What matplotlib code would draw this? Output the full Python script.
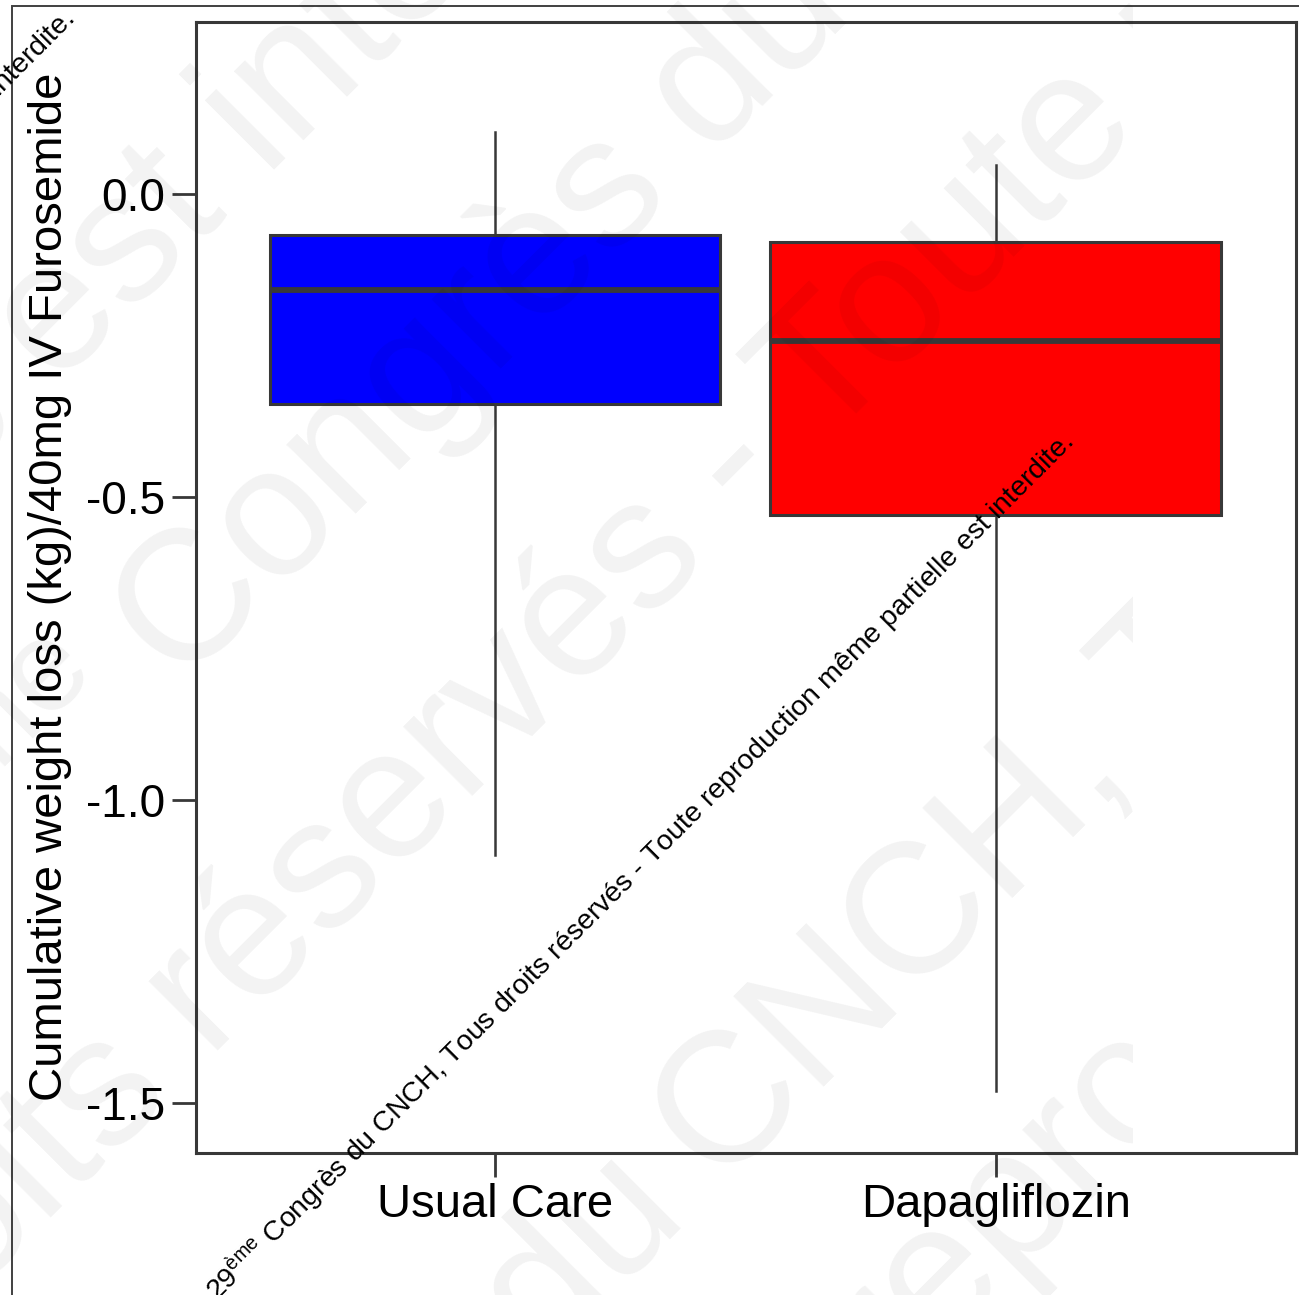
import matplotlib
matplotlib.use("Agg")
import matplotlib.pyplot as plt
from matplotlib.transforms import Bbox
from matplotlib.patches import Rectangle

plt.rcParams["font.family"] = ["Liberation Sans", "DejaVu Sans"]
plt.rcParams["mathtext.fontset"] = "custom"
plt.rcParams["mathtext.rm"] = "Liberation Sans"
plt.rcParams["mathtext.it"] = "Liberation Sans:italic"
plt.rcParams["mathtext.bf"] = "Liberation Sans:bold"

# ---- data -------------------------------------------------------------
groups = ["Usual Care", "Dapagliflozin"]
whisker_low = [-1.091, -1.480]
quartile_1 = [-0.347, -0.529]
medians = [-0.159, -0.243]
quartile_3 = [-0.067, -0.080]
whisker_high = [0.102, 0.048]
box_colors = ["#0000ff", "#ff0000"]

y_ticks = [0.0, -0.5, -1.0, -1.5]
y_tick_labels = ["0.0", "-0.5", "-1.0", "-1.5"]
y_label = "Cumulative weight loss (kg)/40mg IV Furosemide"

notice = ("29$^{\\mathrm{ème}}$ Congrès du CNCH, Tous droits réservés - "
          "Toute reproduction même partielle est interdite.")

# ---- figure -----------------------------------------------------------
W, H = 1299, 1295
fig = plt.figure(figsize=(W / 100, H / 100), dpi=100)
fig.patch.set_facecolor("white")

ink = "#383838"

# slide frame (left and top edges)
fig.add_artist(Rectangle((12 / W, -0.2), 2.0, 1.2 - 6 / H,
                         transform=fig.transFigure, fill=False,
                         edgecolor="#404040", linewidth=1.4, zorder=1))

ax = fig.add_axes([196 / W, 1 - 1152.5 / H, (1296 - 196) / W, (1152.5 - 22) / H])

stats = [
    dict(label=g, whislo=lo, q1=a, med=m, q3=b, whishi=hi, fliers=[])
    for g, lo, a, m, b, hi in zip(groups, whisker_low, quartile_1, medians,
                                  quartile_3, whisker_high)
]
bp = ax.bxp(
    stats, positions=[1, 2], widths=0.9, patch_artist=True, showcaps=False,
    boxprops=dict(edgecolor=ink, linewidth=2.2),
    medianprops=dict(color=ink, linewidth=4.2, solid_capstyle="butt"),
    whiskerprops=dict(color=ink, linewidth=1.8),
)
for patch, c in zip(bp["boxes"], box_colors):
    patch.set_facecolor(c)

ax.set_xlim(0.4032, 2.599)
ax.set_ylim(-1.5812, 0.2837)

ax.set_yticks(y_ticks)
ax.set_yticklabels(y_tick_labels, fontsize=33)
ax.set_xticks([1, 2])
ax.set_xticklabels(groups, fontsize=34)
ax.tick_params(length=17, width=2, color=ink, direction="out", pad=5,
               labelcolor="black")
for sp in ax.spines.values():
    sp.set_linewidth(2.2)
    sp.set_color(ink)

ax.set_ylabel(y_label, fontsize=34)
ax.yaxis.set_label_coords((72 - 196) / 1100, 0.5)


# ---- watermark --------------------------------------------------------
def put(x, y, s, ha, **kw):
    return fig.text(x / W, 1 - y / H, s, rotation=45, rotation_mode="anchor",
                    ha=ha, va="baseline", **kw)


wm_size = 133
space = 0.278 * 185 / 2 ** 0.5
clip = Bbox.from_extents(0, 0, 1133, H)
wm_lines = [
    (444, -333,
     "29$^{\\mathrm{ème}}$ Congrès du CNCH, Tous droits réservés - Toute reproduction même partielle",
     "est interdite."),
    (870, -509, "29$^{\\mathrm{ème}}$",
     "Congrès du CNCH, Tous droits réservés - Toute reproduction même partielle est interdite."),
    (1270, 376, "29$^{\\mathrm{ème}}$ Congrès du CNCH, Tous droits réservés -",
     "Toute reproduction même partielle est interdite."),
    (1911, -472, "29$^{\\mathrm{ème}}$ Congrès du",
     "CNCH, Tous droits réservés - Toute reproduction même partielle est interdite."),
    (2290, -502, "29$^{\\mathrm{ème}}$ Congrès du CNCH, Tous droits réservés - Toute",
     "reproduction même partielle est interdite."),
]
for base, start, head, tail in wm_lines:
    x0 = (base + start) / 2
    y0 = (base - start) / 2
    for s, ha, dx in ((tail, "left", 0.0), (head, "right", -space)):
        t = put(x0 + dx, y0 - dx, s, ha, fontsize=wm_size, color="black",
                alpha=0.05, zorder=5)
        t.set_clip_box(clip)
        t.set_clip_on(True)

# small copyright notice
put(1075, 444, notice, "right", fontsize=20.5, color="black", zorder=6)
put(76, 21, notice, "right", fontsize=20.5, color="black", zorder=6)

fig.savefig("out.png", dpi=100)
